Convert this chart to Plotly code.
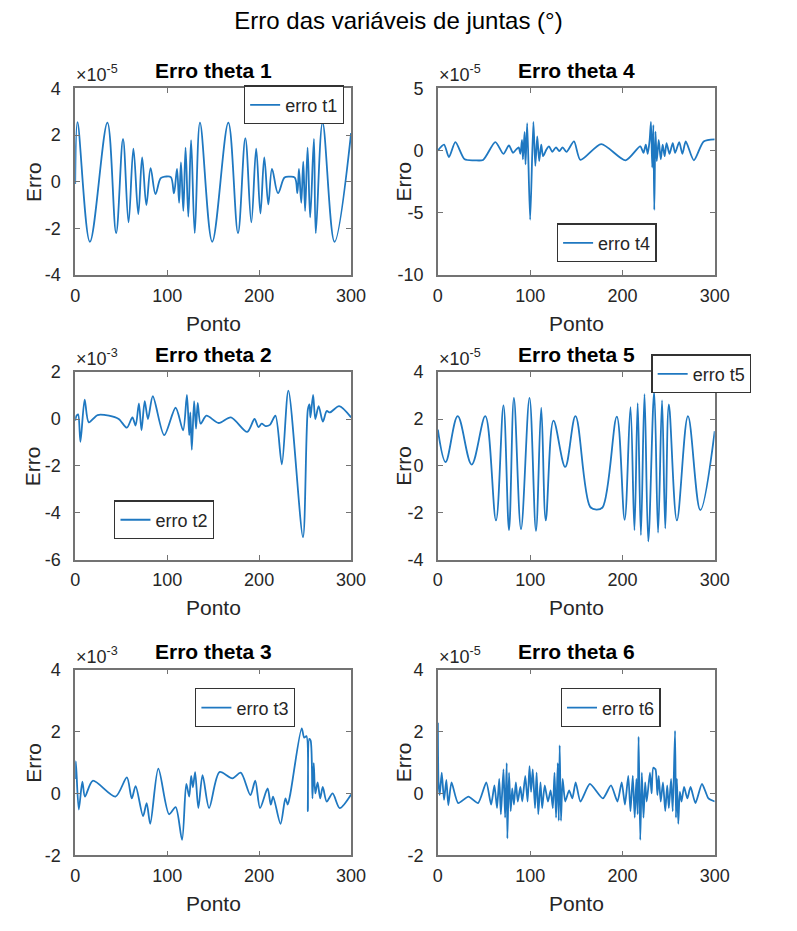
import plotly.graph_objects as go

# ---------------- data (y in units of the axis exponent) ----------------
x_t1 = [0, 2.5, 16, 35, 44.5, 52, 58, 63.3, 68.6, 72.8, 77.4, 82, 87.3, 93, 98, 104, 107.4, 110.7, 113, 115,
        117.6, 120, 123, 126, 130, 135.7, 149, 166.5, 177, 185, 191.5, 196.8, 201.4, 205.6, 210, 214, 220.5,
        227.6, 233, 238.8, 241.6, 243.3, 245.8, 248, 250, 252.7, 255.5, 259.6, 261.6, 269, 282, 300]
y_t1 = [-0.1, 2.55, -2.57, 2.53, -2.2, 1.83, -1.74, 1.42, -1.39, 1.04, -1.0, 0.58, -0.53, 0.15, 0.22, 0.2,
        -0.5, 0.55, -0.9, 0.83, -1.25, 1.46, -1.5, 1.78, -2.2, 2.53, -2.57, 2.53, -2.2, 1.87, -1.74, 1.42,
        -1.36, 1.04, -0.97, 0.55, -0.49, 0.18, 0.22, 0.18, -0.49, 0.55, -0.9, 0.86, -1.25, 1.46, -1.53, 1.83,
        -2.2, 2.53, -2.57, 2.08]

x_t4 = [0, 6.7, 12, 19, 29, 40, 49, 62.3, 71, 77, 81.4, 85, 87.6, 89.4, 91.2, 92.2, 94, 95, 96.8, 100,
        103.5, 105.6, 107.7, 109.8, 112, 114, 117.6, 120.4, 124, 128, 131.6, 135.2, 139.4, 147.5, 154.5, 177,
        203.4, 219.3, 222.8, 225.3, 227.4, 229.5, 230.9, 232.3, 233.5, 234.5, 235.8, 237.2, 239.3, 241.5,
        243.6, 245.7, 247.8, 251, 254.5, 257, 261.5, 265, 268.6, 277.4, 288, 300]
y_t4 = [0, 0.47, -0.52, 0.68, -0.7, -0.78, -0.75, 0.68, -0.26, 0.42, -0.18, 0.1, 0.26, -0.26, 0.86, -0.7,
        1.5, -1.1, 2.2, -5.55, 2.3, -1.23, 1.13, -0.84, 0.47, -0.45, 0.08, 0.34, -0.1, 0.26, -0.05, 0.26,
        -0.1, 0.73, -0.75, 0.52, -0.78, 0.34, -0.18, 0.47, -0.26, 0.86, 2.3, -1.36, 2.04, -4.76, 1.52, -0.84,
        0.86, -0.7, 0.47, -0.45, 0.6, -0.26, 0.6, -0.18, 0.68, -0.26, 0.73, -0.78, 0.73, 0.9]

x_t2 = [0, 1.4, 3.2, 5.7, 10.3, 14.8, 24.4, 36.7, 47.3, 56.2, 62.2, 65.7, 69.3, 72.1, 75.6, 79.1, 84.4, 96.8,
        109.2, 117.3, 121.5, 124, 125.2, 126.8, 129.3, 131.4, 133.2, 136.4, 142.7, 156, 169.3, 187, 195,
        199.3, 202.8, 207, 211.7, 217.7, 224.7, 231.8, 247.7, 253, 254.8, 255.8, 258.7, 261.1, 264.7, 269.3,
        273.5, 277, 287, 300]
y_t2 = [-0.07, 0.14, 0.2, -0.97, 0.83, -0.14, 0.17, 0.14, 0, -0.37, 0.07, -0.28, 0.66, -0.48, 0.76, 0, 0.97,
        -0.69, 0.48, -0.48, 1.03, -0.69, 0.28, -1.31, 0.76, -0.41, 0.69, -0.2, 0.14, -0.17, 0.07, -0.55, 0,
        -0.34, -0.2, -0.3, -0.25, 0.14, -1.93, 1.21, -5.03, 0.41, 0.62, 0.07, 1.03, 0, 0.55, -0.11, 0.34,
        0.28, 0.55, 0.07]

x_t5 = [0, 8.4, 21.5, 36.6, 51.4, 63, 71.1, 77.1, 82.4, 90.1, 99.3, 106.3, 112, 116.9, 125.3, 138, 149.1,
        165, 171.8, 178.5, 193.9, 202.4, 208.7, 213, 216.5, 220, 223.9, 228, 234.4, 238.6, 242.9, 246.4,
        250.3, 259, 271, 284.4, 300]
y_t5 = [1.55, 0.17, 2.12, 0.06, 2.12, -2.32, 2.58, -2.73, 2.9, -2.69, 2.9, -2.76, 2.48, -2.32, 1.93, -0.04,
        2.12, -1.74, -1.86, -1.76, 2.1, -2.29, 2.51, -2.73, 2.68, -2.94, 3.06, -3.21, 3.17, -2.84, 2.79,
        -2.66, 2.62, -2.32, 2.12, -1.88, 1.48]

x_t3 = [0, 0.7, 3.9, 7.8, 10.6, 19.1, 43.8, 56.2, 61.5, 65.7, 73.8, 77.7, 81.6, 90.4, 102.1, 109.2, 116.2,
        120.8, 124, 126.1, 128, 130.4, 133.9, 138.5, 145.6, 156.9, 171, 180, 190.5, 195.8, 201, 209.2, 212.7,
        215.2, 223.3, 228.6, 231.1, 234, 246.3, 249, 251.5, 253, 254.5, 256, 258, 259.4, 261.1, 263.6, 266.4,
        269.2, 273.5, 279.9, 287.6, 300]
y_t3 = [0.47, 1.04, -0.52, 0.38, -0.1, 0.41, -0.1, 0.52, -0.16, 0.24, -0.73, -0.31, -0.98, 0.8, -0.67, -0.44,
        -1.5, 0.31, -0.1, 0.57, 0.2, 0.69, -0.47, 0.59, -0.47, 0.69, 0.49, 0.67, -0.05, 0.41, -0.47, 0.16,
        -0.36, -0.1, -0.98, -0.16, -0.36, 0, 2.1, 1.8, 1.85, -0.57, 1.76, 1.71, -0.16, 0.98, 0, 0.36, -0.16,
        0.21, -0.26, 0, -0.47, -0.03]

x_t6 = [0, 0.7, 2, 4.2, 6.7, 9.2, 11.3, 14.8, 22, 33.1, 43.6, 52.5, 57.7, 61.3, 64.1, 66.5, 68.3, 71.1, 72.9,
        74.6, 75.3, 77.1, 78.9, 80.6, 82.4, 84.5, 86.6, 89.4, 91.5, 94.7, 97.2, 99.3, 101, 102.8, 105.3, 107,
        108.8, 111.2, 113, 115.8, 119.3, 122.2, 124.6, 126.4, 128.1, 129.9, 131, 132, 133.4, 135.2, 138,
        142.2, 145.7, 149.3, 154.5, 164.7, 178.8, 187.6, 194.6, 199.2, 202.7, 206.3, 208.7, 211.2, 213.3,
        215.1, 216.5, 217.5, 219.3, 221, 222.8, 224.6, 226.3, 229.8, 231.6, 233.4, 235.8, 237.9, 239.3, 241.5,
        243.9, 246.4, 248.5, 250.3, 252.7, 254.5, 257, 258, 259, 260.5, 262.2, 264, 266.8, 270.3, 273.8,
        279.1, 286.2, 293.2, 300]
y_t6 = [2.28, 0.36, -0.05, 0.67, -0.21, 0.44, -0.38, 0.36, -0.31, -0.1, -0.31, 0.36, -0.36, 0.26, -0.47, 0.47,
        -0.67, 0.78, -0.78, 0.98, -1.45, 0.67, -0.57, 0.16, -0.36, 0.36, -0.26, 0.21, -0.26, 0.57, -0.26,
        0.88, 0.05, 0.78, -0.47, 0.67, -0.67, 0.36, -0.47, 0.26, -0.26, 0.1, -0.47, 0.67, -0.78, 0.98, -0.88,
        1.55, -0.88, 0.47, -0.26, 0.1, -0.16, 0.36, -0.26, 0.31, -0.16, 0.26, -0.26, 0.36, -0.36, 0.57,
        -0.57, 0.57, -0.78, 0.47, -0.67, 1.83, -1.5, 0.67, -0.78, 0.36, -0.26, 0.67, 0, 0.83, 0.78, -0.05,
        0.57, -0.26, 0.36, -0.57, 0.26, -0.47, 0.47, -0.57, 2.02, -0.78, 0.47, -0.98, 0.05, -0.26, 0.21,
        -0.16, 0.21, -0.31, 0.31, -0.16, -0.26]

x_ticks = [0, 100, 200, 300]
x_ticklabels = ["0", "100", "200", "300"]
y_ticks_t1 = [-4, -2, 0, 2, 4]
y_ticks_t4 = [-10, -5, 0, 5]
y_ticks_t2 = [-6, -4, -2, 0, 2]
y_ticks_t5 = [-4, -2, 0, 2, 4]
y_ticks_t3 = [-2, 0, 2, 4]
y_ticks_t6 = [-2, 0, 2, 4]

titles = ["Erro theta 1", "Erro theta 4", "Erro theta 2", "Erro theta 5", "Erro theta 3", "Erro theta 6"]
names = ["erro t1", "erro t4", "erro t2", "erro t5", "erro t3", "erro t6"]
exponents = ["-5", "-5", "-3", "-5", "-3", "-5"]
main_title = "Erro das variáveis de juntas (°)"
x_label = "Ponto"
y_label = "Erro"

# ---------------- layout ----------------
W, H = 797, 931
LINE = "#1f78c1"
TXT = "#262626"
AXC = "#737373"
FONT = "Arial, Liberation Sans, sans-serif"

panels = [
    (x_t1, y_t1, y_ticks_t1, 1.0),
    (x_t4, y_t4, y_ticks_t4, 0.7),
    (x_t2, y_t2, y_ticks_t2, 0.8),
    (x_t5, y_t5, y_ticks_t5, 1.0),
    (x_t3, y_t3, y_ticks_t3, 0.8),
    (x_t6, y_t6, y_ticks_t6, 0.6),
]
# pixel boxes (left, right, top, bottom)
cols = [(72, 355), (444, 728)]
rows = [(80, 271), (370, 562), (674, 864)]
ylabel_x = [29, 409]
legend_pos = [(245, 77), (566, 218), (112, 501), (663, 352), (195, 693), (570, 693)]

def px(v):
    return v / W

def py(v):
    return 1 - v / H

fig = go.Figure()
annotations = []
layout = dict(
    width=W, height=H, margin=dict(l=0, r=0, t=0, b=0),
    paper_bgcolor="white", plot_bgcolor="white",
    font=dict(family=FONT, color=TXT, size=18),
    title=dict(text=main_title, x=0.5, xanchor="center", y=py(21), yanchor="middle",
               font=dict(size=24, color="#000000", family=FONT)),
)

for i, (xs, ys, yt, sm) in enumerate(panels):
    r, c = divmod(i, 2)
    l, rgt = cols[c]
    t, b = rows[r]
    sfx = "" if i == 0 else str(i + 1)
    fig.add_trace(go.Scatter(
        x=xs, y=ys, mode="lines", name=names[i],
        line=dict(color=LINE, width=1.8, shape="spline", smoothing=sm),
        xaxis="x" + sfx, yaxis="y" + sfx, legend="legend" + sfx, showlegend=True,
    ))
    common = dict(showline=True, linecolor=AXC, linewidth=1.6, mirror="allticks",
                  ticks="inside", ticklen=5, tickcolor=AXC, tickwidth=1.2,
                  showgrid=False, zeroline=False, tickfont=dict(size=18, color=TXT))
    layout["xaxis" + sfx] = dict(domain=[px(l), px(rgt)], range=[0, 300], tickvals=x_ticks,
                                 ticktext=x_ticklabels, anchor="y" + sfx, ticklabelstandoff=3, **common)
    layout["yaxis" + sfx] = dict(domain=[py(b), py(t)], range=[yt[0], yt[-1]], tickvals=yt,
                                 ticktext=[str(v) for v in yt], anchor="x" + sfx,
                                 ticklabelstandoff=9, **common)
    lx, ly = legend_pos[i]
    layout["legend" + sfx] = dict(x=px(lx), y=py(ly), xanchor="left", yanchor="top",
                                  bgcolor="white", bordercolor="#333333", borderwidth=1.3,
                                  font=dict(size=18, color=TXT, family=FONT))
    cx = (l + rgt) / 2
    annotations.append(dict(text="<b>" + titles[i] + "</b>", x=px(cx), y=py(t - 18), xref="paper",
                            yref="paper", showarrow=False, xanchor="center", yanchor="middle",
                            font=dict(size=21, color="#000000", family=FONT)))
    annotations.append(dict(text="×10<sup>" + exponents[i] + "</sup>", x=px(l - 1), y=py(t - 1),
                            xref="paper", yref="paper", showarrow=False, xanchor="left",
                            yanchor="bottom", font=dict(size=18, color=TXT, family=FONT)))
    annotations.append(dict(text=x_label, x=px(cx), y=py(b + 49), xref="paper", yref="paper",
                            showarrow=False, xanchor="center", yanchor="middle",
                            font=dict(size=21, color=TXT, family=FONT)))
    annotations.append(dict(text=y_label, x=px(ylabel_x[c]), y=py((t + b) / 2), xref="paper", yref="paper",
                            showarrow=False, xanchor="center", yanchor="middle", textangle=-90,
                            font=dict(size=21, color=TXT, family=FONT)))

layout["annotations"] = annotations
fig.update_layout(**layout)
fig.write_html("out.html")
